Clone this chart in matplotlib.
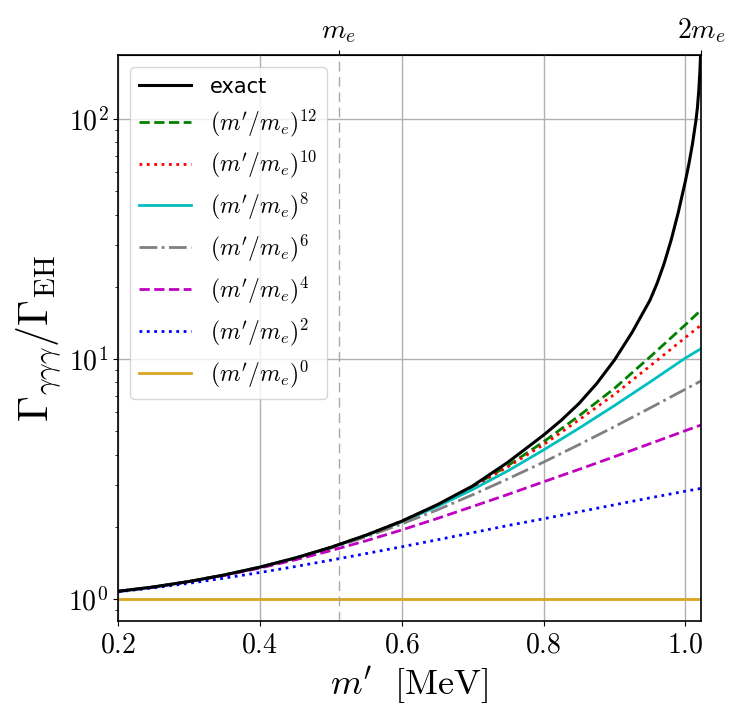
import matplotlib
matplotlib.use("Agg")
import matplotlib.pyplot as plt
from matplotlib.ticker import NullFormatter

plt.rcParams['mathtext.fontset'] = 'cm'

m_e = 0.511

# m' grid [MeV] used for the truncated series
m_series = [0.2, 0.25, 0.3, 0.35, 0.4, 0.45, 0.5, 0.55, 0.6, 0.65,
            0.7, 0.75, 0.8, 0.85, 0.9, 0.95, 1.0, 1.022]

p0 = [1.0] * len(m_series)
p2 = [1.072, 1.113, 1.163, 1.222, 1.290, 1.366, 1.452, 1.547, 1.651, 1.765,
      1.890, 2.025, 2.160, 2.310, 2.470, 2.640, 2.815, 2.890]
p4 = [1.076, 1.122, 1.181, 1.255, 1.346, 1.457, 1.591, 1.750, 1.940, 2.165,
      2.430, 2.730, 3.080, 3.470, 3.920, 4.440, 5.030, 5.310]
p6 = [1.076, 1.122, 1.183, 1.259, 1.356, 1.478, 1.629, 1.818, 2.055, 2.350,
      2.720, 3.170, 3.720, 4.400, 5.230, 6.250, 7.490, 8.110]
p8 = [1.076, 1.122, 1.183, 1.260, 1.358, 1.482, 1.639, 1.840, 2.097, 2.430,
      2.860, 3.425, 4.180, 5.150, 6.400, 8.020, 10.10, 11.05]
p10 = [1.076, 1.122, 1.183, 1.260, 1.358, 1.483, 1.641, 1.845, 2.110, 2.460,
       2.925, 3.560, 4.400, 5.580, 7.130, 9.350, 12.30, 13.85]
p12 = [1.076, 1.122, 1.183, 1.260, 1.358, 1.483, 1.641, 1.846, 2.112, 2.466,
       2.945, 3.600, 4.520, 5.800, 7.550, 10.20, 13.90, 16.00]

# exact ratio, denser near the 2 m_e threshold
m_exact = [0.2, 0.25, 0.3, 0.35, 0.4, 0.45, 0.5, 0.55, 0.6, 0.65, 0.7, 0.75,
           0.8, 0.825, 0.85, 0.875, 0.9, 0.925, 0.95, 0.96, 0.97, 0.98,
           0.99, 1.0, 1.005, 1.01, 1.015, 1.017, 1.019, 1.0205, 1.0215, 1.022]
exact = [1.077, 1.123, 1.183, 1.260, 1.358, 1.483, 1.642, 1.847, 2.11, 2.47,
         2.96, 3.72, 4.82, 5.56, 6.53, 7.91, 9.91, 12.94, 17.58, 20.65, 25.0,
         31.4, 40.9, 55.2, 65.2, 78.9, 99.3, 111.9, 133.4, 159.6, 188.4, 210.0]

series = [
    (p12, r"$(m'/m_e)^{12}$", 'g', '--'),
    (p10, r"$(m'/m_e)^{10}$", 'r', ':'),
    (p8, r"$(m'/m_e)^{8}$", 'c', '-'),
    (p6, r"$(m'/m_e)^{6}$", 'gray', '-.'),
    (p4, r"$(m'/m_e)^{4}$", 'm', '--'),
    (p2, r"$(m'/m_e)^{2}$", 'b', ':'),
    (p0, r"$(m'/m_e)^{0}$", 'goldenrod', '-'),
]

x_ticks = [0.2, 0.4, 0.6, 0.8, 1.0]
x_ticklabels = [r'$0.2$', r'$0.4$', r'$0.6$', r'$0.8$', r'$1.0$']
y_ticks = [1, 10, 100]
y_ticklabels = [r'$10^0$', r'$10^1$', r'$10^2$']

fig = plt.figure(figsize=(7.41, 7.23), dpi=100)
ax = fig.add_axes([118 / 741, 1 - 621 / 723, (701 - 118) / 741, (621 - 55) / 723])

ax.plot(m_exact, exact, color='k', lw=2.2, label='exact', zorder=4)
for vals, lab, col, ls in series:
    ax.plot(m_series, vals, color=col, ls=ls, lw=2, label=lab)

ax.axvline(m_e, color='darkgray', ls=(0, (7, 4)), lw=1)

ax.set_yscale('log')
ax.set_xlim(0.2, 2 * m_e)
ax.set_ylim(0.81, 185)

ax.set_xticks(x_ticks, x_ticklabels)
ax.set_yticks(y_ticks, y_ticklabels)
ax.yaxis.set_minor_formatter(NullFormatter())
ax.tick_params(labelsize=20)
ax.grid(True, which='major', color='#b0b0b0', lw=1)

for s in ax.spines.values():
    s.set_linewidth(1.2)

top = ax.secondary_xaxis('top')
top.set_xticks([m_e, 2 * m_e], [r'$m_e$', r'$2m_e$'])
top.tick_params(labelsize=20)

ax.set_xlabel(r"$m'\ \ [\mathrm{MeV}]$", fontsize=26)
ax.set_ylabel(r'$\Gamma_{\gamma\gamma\gamma}/\Gamma_{\rm EH}$', fontsize=30)

leg = ax.legend(loc='upper left', fontsize=17, handlelength=2.2,
                labelspacing=0.45, framealpha=0.8)
leg.get_texts()[0].set_fontsize(15)

fig.savefig('out.png', dpi=100)
